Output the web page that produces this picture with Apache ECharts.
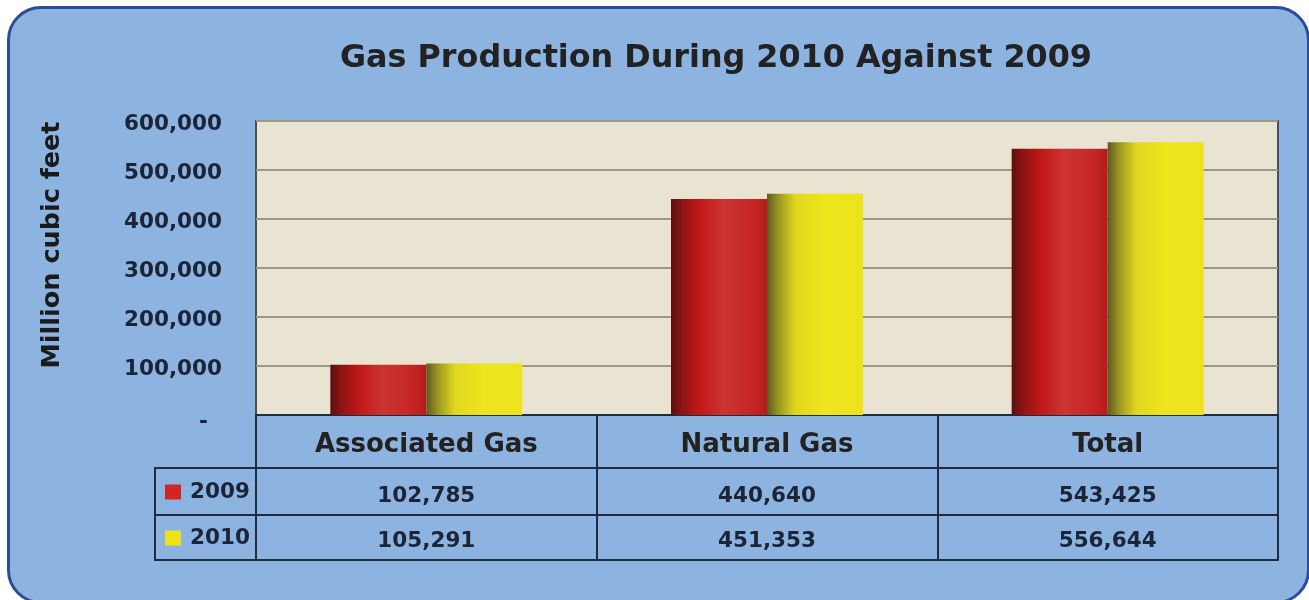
<!DOCTYPE html>
<html>
<head>
<meta charset="utf-8">
<script src="https://cdn.jsdelivr.net/npm/echarts@6/dist/echarts.min.js"></script>
<style>
  html, body { margin: 0; padding: 0; background: #ffffff; }
  #bg { position: absolute; left: 7px; top: 6px; width: 1297px; height: 592px;
        background: #8db3e1; border: 3px solid #2a4c99; border-radius: 34px; }
  #chart { position: absolute; left: 0; top: 0; width: 1309px; height: 600px; }
</style>
</head>
<body>
<div id="bg"></div>
<div id="chart"></div>
<script>
const categories = ['Associated Gas', 'Natural Gas', 'Total'];
const seriesNames = ['2009', '2010'];
const values2009 = [102785, 440640, 543425];
const values2010 = [105291, 451353, 556644];
const yMin = 0, yMax = 600000, yInterval = 100000;

const FONT = '"DejaVu Sans", Verdana, sans-serif';
const fmt = v => v.toLocaleString('en-US');

const G = { left: 256, right: 31, top: 121, bottom: 185 };
const rowH = [53, 47, 45];
const lineCol = '#1f2b3e';

const redGrad = new echarts.graphic.LinearGradient(0, 0, 1, 0, [
  { offset: 0, color: '#5c0f0f' },
  { offset: 0.12, color: '#8f1414' },
  { offset: 0.3, color: '#c21717' },
  { offset: 0.55, color: '#cc3434' },
  { offset: 0.85, color: '#c72525' },
  { offset: 1, color: '#b51c1c' }
]);
const yelGrad = new echarts.graphic.LinearGradient(0, 0, 1, 0, [
  { offset: 0, color: '#5e5a22' },
  { offset: 0.12, color: '#9c9622' },
  { offset: 0.3, color: '#e0d81e' },
  { offset: 0.6, color: '#eee51c' },
  { offset: 1, color: '#ece31a' }
]);

const chart = echarts.init(document.getElementById('chart'), null, { renderer: 'canvas' });

const rowAxis = (offset, tickLen, vals, margin) => ({
  type: 'category', data: categories, position: 'bottom', offset: offset,
  axisLine: { show: true, lineStyle: { color: lineCol, width: 2 } },
  axisTick: { show: tickLen > 0, length: tickLen, interval: 0, lineStyle: { color: lineCol, width: 2 } },
  axisLabel: vals ? {
    interval: 0, margin: margin, fontFamily: FONT, fontSize: 21.5, fontWeight: 'bold', color: '#1c2438', lineHeight: 24,
    formatter: (v, i) => fmt(vals[i])
  } : { show: false },
  splitLine: { show: false }
});

const legendCell = (name, color, top) => ({
  data: [{ name: name, itemStyle: { color: color } }],
  left: 165, top: top, orient: 'vertical', icon: 'rect', itemWidth: 16, itemHeight: 15,
  itemGap: 0, padding: 0, selectedMode: false,
  textStyle: { fontFamily: FONT, fontSize: 21.5, fontWeight: 'bold', color: '#1c2438', lineHeight: 24, padding: [6, 0, 0, 4] }
});

const option = {
  animation: false,
  title: {
    text: 'Gas Production During 2010 Against 2009',
    left: 335, top: 38,
    textStyle: { fontFamily: FONT, fontSize: 31.8, fontWeight: 'bold', color: '#222222' }
  },
  legend: [
    legendCell(seriesNames[0], '#d02525', 477),
    legendCell(seriesNames[1], '#f0e21a', 523)
  ],
  grid: {
    left: G.left, right: G.right, top: G.top, bottom: G.bottom,
    show: true, backgroundColor: '#e9e4d1', borderColor: '#4a4e55', borderWidth: 2
  },
  xAxis: [
    {
      type: 'category', data: categories, position: 'bottom',
      axisLine: { lineStyle: { color: lineCol, width: 2 } },
      axisTick: { show: true, length: rowH[0], interval: 0, lineStyle: { color: lineCol, width: 2 } },
      axisLabel: { interval: 0, margin: 15, fontFamily: FONT, fontSize: 26, fontWeight: 'bold', color: '#222222', lineHeight: 30 }
    },
    rowAxis(rowH[0], rowH[1], values2009, 16),
    rowAxis(rowH[0] + rowH[1], rowH[2], values2010, 14),
    rowAxis(rowH[0] + rowH[1] + rowH[2], 0, null, 0)
  ],
  yAxis: {
    type: 'value', min: yMin, max: yMax, interval: yInterval,
    name: 'Million cubic feet', nameLocation: 'middle', nameRotate: 90, nameGap: 191,
    nameTextStyle: { fontFamily: FONT, fontSize: 25.5, fontWeight: 'bold', color: '#1a1a1a', padding: [0, 0, 0, 46] },
    axisLine: { show: false }, axisTick: { show: false },
    splitLine: { lineStyle: { color: '#9d9786', width: 2 } },
    axisLabel: {
      margin: 34, fontFamily: FONT, fontSize: 21.5, fontWeight: 'bold', color: '#1c2438', padding: [7, 0, 0, 0],
      formatter: v => v === 0 ? '{d|-}' : fmt(v),
      rich: { d: { fontFamily: FONT, fontSize: 21.5, fontWeight: 'bold', color: '#1c2438', padding: [8, 14, 0, 0] } }
    }
  },
  series: [
    { name: seriesNames[0], type: 'bar', xAxisIndex: 0, data: values2009, barWidth: 96, barGap: '0%',
      itemStyle: { color: redGrad } },
    { name: seriesNames[1], type: 'bar', xAxisIndex: 0, data: values2010, barWidth: 96, barGap: '0%',
      itemStyle: { color: yelGrad } }
  ],
  graphic: [
    { type: 'rect', shape: { x: 155, y: 600 - G.bottom + rowH[0], width: G.left - 155, height: rowH[1] + rowH[2] },
      style: { fill: null, stroke: lineCol, lineWidth: 2 } },
    { type: 'line', shape: { x1: 155, y1: 600 - G.bottom + rowH[0] + rowH[1], x2: G.left, y2: 600 - G.bottom + rowH[0] + rowH[1] },
      style: { stroke: lineCol, lineWidth: 2 } }
  ]
};
chart.setOption(option);
</script>
</body>
</html>
